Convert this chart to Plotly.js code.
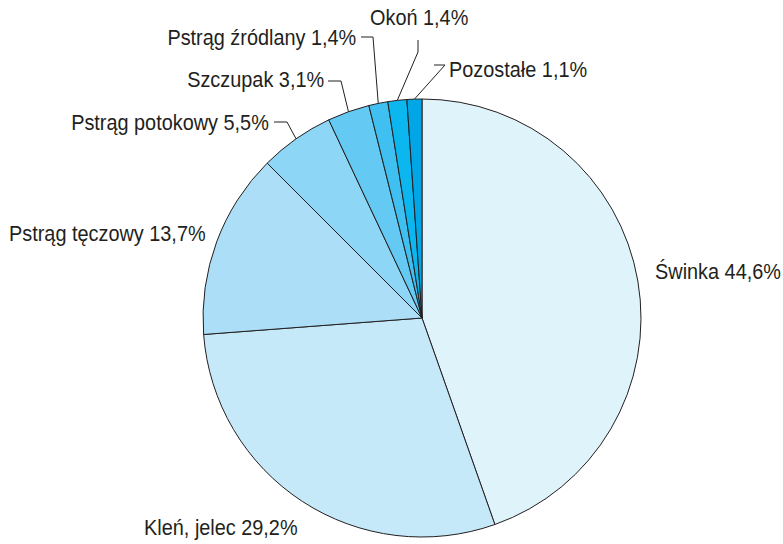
<!DOCTYPE html>
<html>
<head>
<meta charset="utf-8">
<script src="https://cdn.plot.ly/plotly-3.0.1.min.js"></script>
<style>
html,body{margin:0;padding:0;background:#fff;}
#chart{width:783px;height:544px;}
#chart .annotation-text{transform-box:fill-box;transform-origin:center;transform:scale(0.925,1);}
#chart .annotation-text.anchor-left{transform-origin:left center;}
#chart .annotation-text.anchor-right{transform-origin:right center;}
</style>
</head>
<body>
<div id="chart"></div>
<script>
// Data
const categories = ["Świnka", "Kleń, jelec", "Pstrąg tęczowy", "Pstrąg potokowy", "Szczupak", "Pstrąg źródlany", "Okoń", "Pozostałe"];
const shares = [44.6, 29.2, 13.7, 5.5, 3.1, 1.4, 1.4, 1.1];
const shareLabels = ["44,6%", "29,2%", "13,7%", "5,5%", "3,1%", "1,4%", "1,4%", "1,1%"];

// Styles
const colors = ["#dff3fb", "#c6e9f9", "#acdff7", "#8dd6f5", "#64caf3", "#40c0f1", "#0cb6ee", "#00a6e6"];
const W = 783, H = 544;
const CX = 422, CY = 318, R = 219;
// label layout: [x, y, xanchor, elbowX, elbowY] in pixels (null elbow = no leader)
const labelLayout = [
  [653, 271, "left", null, null],
  [142, 528, "left", null, null],
  [208, 234, "right", null, null],
  [271, 123, "right", 287, 122],
  [326, 80, "right", 341, 81],
  [358, 38, "right", 373, 37],
  [419, 18, "center", 418, 52],
  [447, 70, "left", 445, 65]
];
const leaderStart = [null, null, null, [274, 122], [328, 81], [361, 37], [418, 40], [434, 65]];

const px = x => x / W;
const py = y => 1 - y / H;

const total = shares.reduce((a, b) => a + b, 0);
let cum = 0;
const annotations = [];
const shapes = [];
categories.forEach((c, i) => {
  const mid = (cum + shares[i] / 2) / total * 2 * Math.PI;
  cum += shares[i];
  const L = labelLayout[i];
  annotations.push({
    x: px(L[0]), y: py(L[1]), xref: "paper", yref: "paper",
    xanchor: L[2], yanchor: "middle", showarrow: false,
    text: c + " " + shareLabels[i],
    font: {family: "Liberation Sans, Arial, sans-serif", size: 21.5, color: "#231f20"}
  });
  if (L[3] !== null) {
    const ex = CX + R * Math.sin(mid), ey = CY - R * Math.cos(mid);
    const s = leaderStart[i];
    shapes.push({
      type: "path", xref: "paper", yref: "paper",
      path: `M ${px(s[0])} ${py(s[1])} L ${px(L[3])} ${py(L[4])} L ${px(ex)} ${py(ey)}`,
      line: {color: "#231f20", width: 1}
    });
  }
});

const trace = {
  type: "pie",
  labels: categories,
  values: shares,
  sort: false,
  direction: "clockwise",
  rotation: 0,
  textinfo: "none",
  hoverinfo: "label+percent",
  marker: {colors: colors, line: {color: "#231f20", width: 1}},
  domain: {x: [(CX - R) / W, (CX + R) / W], y: [1 - (CY + R) / H, 1 - (CY - R) / H]},
  showlegend: false
};

Plotly.newPlot("chart", [trace], {
  width: W, height: H,
  margin: {l: 0, r: 0, t: 0, b: 0},
  paper_bgcolor: "#fff",
  annotations: annotations,
  shapes: shapes,
  showlegend: false
}, {displayModeBar: false, staticPlot: true}).then(gd => {
  // horizontal condensing anchored at each label's anchor side
  const texts = gd.querySelectorAll(".annotation-text");
  texts.forEach((t, i) => {
    const a = annotations[i];
    if (a && a.xanchor === "left") t.classList.add("anchor-left");
    if (a && a.xanchor === "right") t.classList.add("anchor-right");
  });
});
</script>
</body>
</html>
